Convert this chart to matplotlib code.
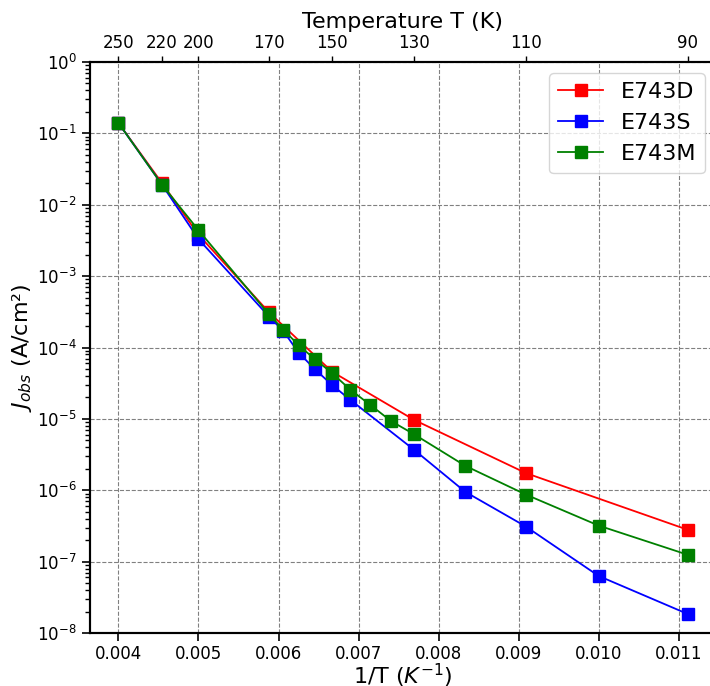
import matplotlib
matplotlib.use("Agg")
import matplotlib.pyplot as plt
import numpy as np

# Temperatures (K) for each series
T_D = [250, 220, 200, 170, 150, 130, 110, 90]
J_D = [0.14, 0.02, 3.8e-3, 3.1e-4, 4.6e-5, 9.7e-6, 1.74e-6, 2.8e-7]

T_S = [250, 220, 200, 170, 165, 160, 155, 150, 145, 130, 120, 110, 100, 90]
J_S = [0.14, 0.019, 3.3e-3, 2.7e-4, 1.7e-4, 8.5e-5, 5.0e-5, 3.0e-5, 1.85e-5,
       3.7e-6, 9.5e-7, 3.1e-7, 6.3e-8, 1.85e-8]

T_M = [250, 220, 200, 170, 165, 160, 155, 150, 145, 140, 135, 130, 120, 110, 100, 90]
J_M = [0.14, 0.019, 4.4e-3, 2.9e-4, 1.78e-4, 1.08e-4, 6.9e-5, 4.4e-5, 2.57e-5,
       1.58e-5, 9.3e-6, 6.1e-6, 2.2e-6, 8.7e-7, 3.2e-7, 1.25e-7]

top_T_ticks = [250, 220, 200, 170, 150, 130, 110, 90]
bottom_ticks = [0.004, 0.005, 0.006, 0.007, 0.008, 0.009, 0.010, 0.011]

fig = plt.figure(figsize=(7.1, 6.86), dpi=100)
ax = fig.add_axes([90/710, (686-633)/686, 626/710, 571/686])

series = [("E743D", T_D, J_D, "red"), ("E743S", T_S, J_S, "blue"), ("E743M", T_M, J_M, "green")]
for name, T, J, c in series:
    ax.plot(1.0/np.array(T), J, marker="s", color=c, ms=8, lw=1.3, label=name)

ax.set_yscale("log")
ax.set_ylim(1e-8, 1)
ax.margins(x=0.05)
ax.set_xticks(bottom_ticks)
ax.set_xticklabels(["%.3f" % v for v in bottom_ticks])
ax.grid(True, which="major", ls="--", color="gray", lw=0.8)
ax.tick_params(axis="both", which="major", labelsize=12, length=6, width=1.2, direction="out")
ax.tick_params(axis="x", which="major", pad=2.5)
ax.tick_params(axis="y", which="minor", length=3.5, width=1.0)
for s in ax.spines.values():
    s.set_linewidth(1.5)
ax.set_xlabel("1/T ($K^{-1}$)", fontsize=16, labelpad=-1)
ax.set_ylabel("$J_{obs}$ (A/cm²)", fontsize=16, labelpad=2)

leg = ax.legend(loc="upper right", fontsize=16, borderaxespad=0.5)

ax2 = ax.twiny()
ax2.set_xlim(ax.get_xlim())
ax2.set_xticks([1.0/t for t in top_T_ticks])
ax2.set_xticklabels([str(t) for t in top_T_ticks])
ax2.tick_params(axis="x", labelsize=12, length=4, width=1.0)
ax2.set_xlabel("Temperature T (K)", fontsize=16)
for s in ax2.spines.values():
    s.set_linewidth(1.5)

fig.savefig("out.png", dpi=100)
